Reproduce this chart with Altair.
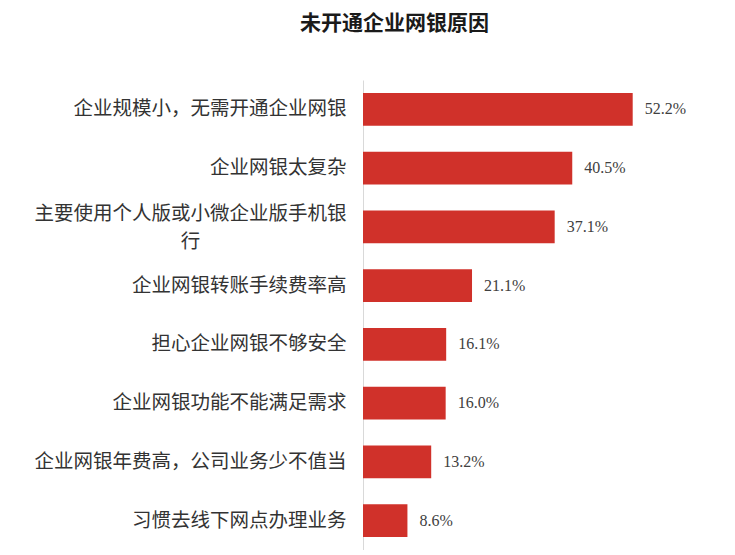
import altair as alt
import pandas as pd

categories = [
    "企业规模小，无需开通企业网银",
    "企业网银太复杂",
    "主要使用个人版或小微企业版手机银行",
    "企业网银转账手续费率高",
    "担心企业网银不够安全",
    "企业网银功能不能满足需求",
    "企业网银年费高，公司业务少不值当",
    "习惯去线下网点办理业务",
]
values = [52.2, 40.5, 37.1, 21.1, 16.1, 16.0, 13.2, 8.6]
title_text = "未开通企业网银原因"

wrap_cat = categories[2]
wrap_lines = ["主要使用个人版或小微企业版手机银", "行"]

df = pd.DataFrame({"cat": categories, "value": values})

LABEL_FS = 19.5
BAR_COLOR = "#D0312A"

label_expr = (
    f"datum.value == '{wrap_cat}' ? ['{wrap_lines[0]}', '{wrap_lines[1]}'] : datum.label"
)
half_first = len(wrap_lines[0]) * LABEL_FS / 2
is_wrap = f"datum.value == '{wrap_cat}'"

y_enc = alt.Y(
    "cat:N",
    sort=categories,
    scale=alt.Scale(paddingInner=0.44, paddingOuter=0.22),
    axis=alt.Axis(
        title=None,
        ticks=False,
        tickSize=0,
        domain=True,
        domainColor="#d9d9d9",
        domainWidth=1,
        grid=False,
        labelFont="Noto Sans CJK SC",
        labelFontSize=LABEL_FS,
        labelColor="#333333",
        labelLimit=0,
        labelLineHeight=28,
        labelExpr=label_expr,
        labelAlign=alt.condition(is_wrap, alt.value("center"), alt.value("right")),
        labelPadding=alt.condition(is_wrap, alt.value(17 + half_first), alt.value(17)),
        labelOffset=alt.condition(is_wrap, alt.value(-13), alt.value(0)),
    ),
)

x_enc = alt.X("value:Q", scale=alt.Scale(domain=[0, 60]), axis=None)

bars = alt.Chart(df).mark_bar(color=BAR_COLOR).encode(x=x_enc, y=y_enc)

texts = (
    alt.Chart(df)
    .transform_calculate(lbl="format(datum.value, '.1f') + '%'")
    .mark_text(align="left", baseline="middle", dx=12, font="Liberation Serif", fontSize=16, color="#404040")
    .encode(x=x_enc, y=y_enc, text="lbl:N")
)

chart = (
    alt.layer(bars, texts)
    .properties(
        width=310,
        height=470,
        autosize="none",
        padding={"left": 355, "top": 72, "right": 30, "bottom": 0},
        title=alt.TitleParams(
            text=title_text,
            font="Noto Sans CJK SC",
            fontSize=21,
            fontWeight="bold",
            color="#1a1a1a",
            anchor="middle",
            baseline="bottom",
            dx=-123.5,
            offset=25,
        ),
    )
    .configure_view(stroke=None)
)

chart.save("out.html", embed_options={"renderer": "svg", "actions": False})
